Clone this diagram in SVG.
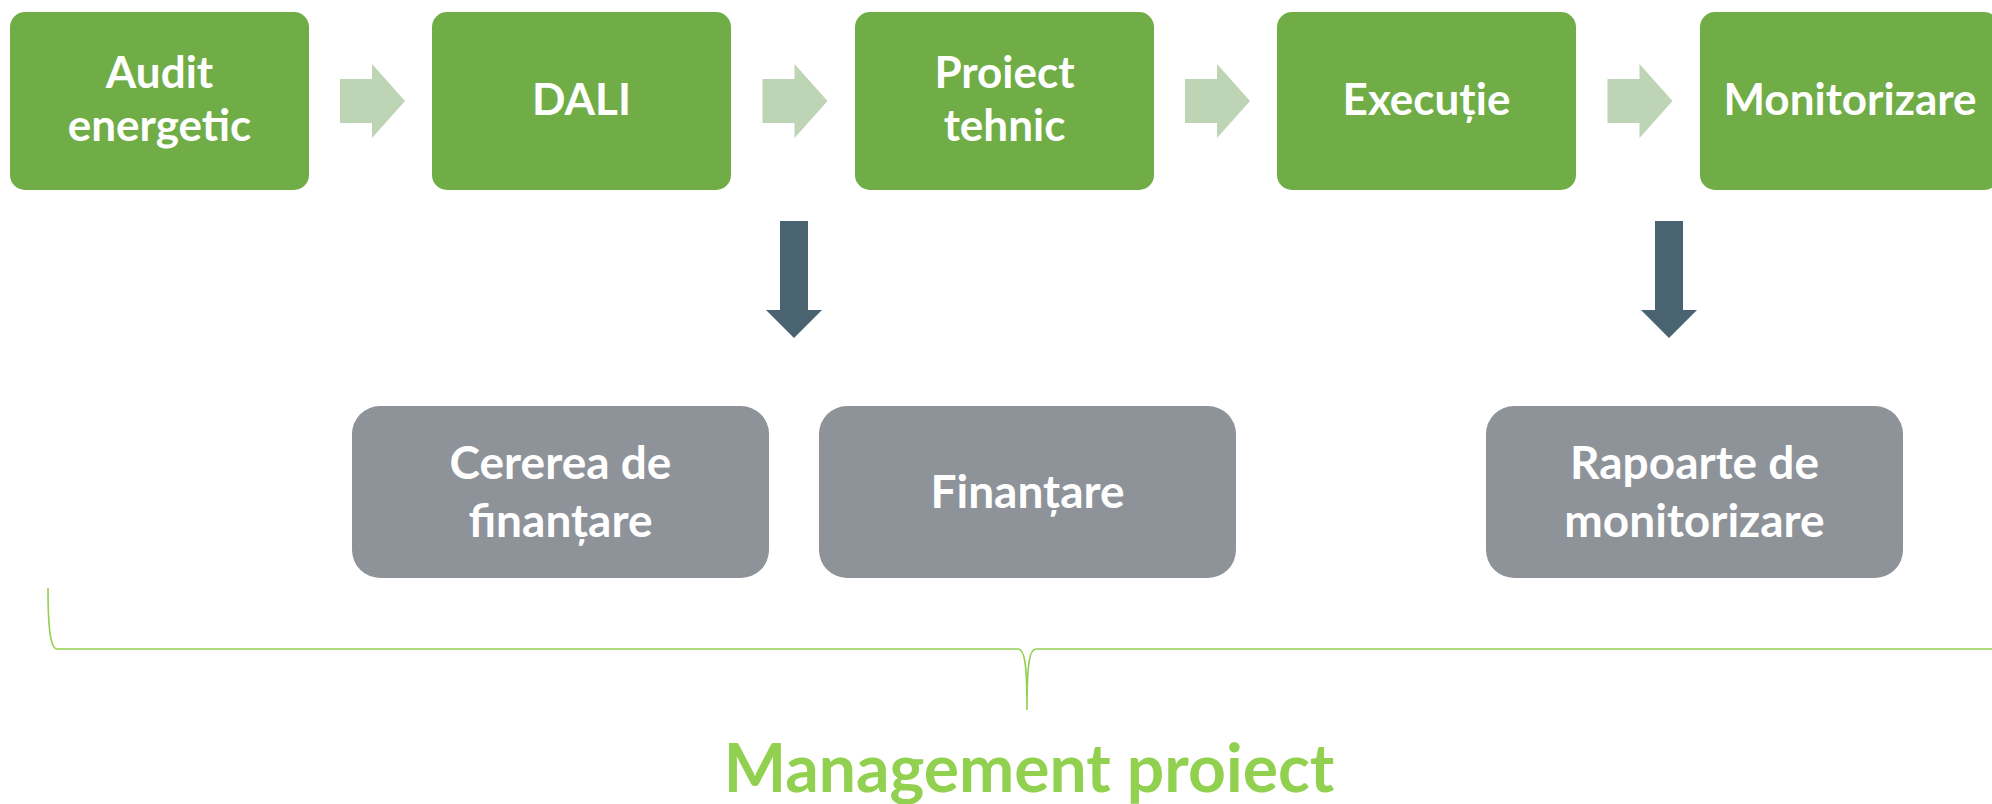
<svg xmlns="http://www.w3.org/2000/svg" width="1992" height="804" viewBox="0 0 1992 804">
  <style>
    .step { fill: #70AD47; }
    .out { fill: #8E9399; }
    .lbl { font-family: Lato, "Open Sans", "Liberation Sans", sans-serif; font-weight: 700; fill: #FFFFFF; text-anchor: middle; }
    .g { font-size: 44px; }
    .o { font-size: 46px; }
    .next { fill: #BDD4B5; }
    .down { fill: #4A6371; }
    .brace { fill: none; stroke: #92D050; stroke-width: 1.6; }
    .title { font-family: Lato, "Open Sans", "Liberation Sans", sans-serif; font-weight: 700; font-size: 66px; fill: #92D050; text-anchor: middle; }
  </style>
  <defs>
    <path id="chev" d="M0,15 H32 V0 L65,37 L32,74 V59 H0 Z"/>
    <path id="darr" d="M-14,0 H14 V89 H28 L0,117 L-28,89 H-14 Z"/>
  </defs>

  <rect width="1992" height="804" fill="#FFFFFF"/>

  <!-- process steps -->
  <g id="audit">
    <rect class="step" x="10" y="12" width="299" height="178" rx="15"/>
    <text class="lbl g" x="159.5" y="88">Audit</text>
    <text class="lbl g" x="159.5" y="141">energetic</text>
  </g>
  <g id="dali">
    <rect class="step" x="432" y="12" width="299" height="178" rx="15"/>
    <text class="lbl g" x="581.5" y="115">DALI</text>
  </g>
  <g id="proiect-tehnic">
    <rect class="step" x="855" y="12" width="299" height="178" rx="15"/>
    <text class="lbl g" x="1004.5" y="88">Proiect</text>
    <text class="lbl g" x="1004.5" y="141">tehnic</text>
  </g>
  <g id="executie">
    <rect class="step" x="1277" y="12" width="299" height="178" rx="15"/>
    <text class="lbl g" x="1426.5" y="115">Execuție</text>
  </g>
  <g id="monitorizare">
    <rect class="step" x="1700" y="12" width="299" height="178" rx="15"/>
    <text class="lbl g" x="1850" y="115">Monitorizare</text>
  </g>

  <!-- deliverables -->
  <g id="cererea">
    <rect class="out" x="352" y="406" width="417" height="172" rx="28"/>
    <text class="lbl o" x="560.5" y="479">Cererea de</text>
    <text class="lbl o" x="560.5" y="537">finanțare</text>
  </g>
  <g id="finantare">
    <rect class="out" x="819" y="406" width="417" height="172" rx="28"/>
    <text class="lbl o" x="1027.5" y="508">Finanțare</text>
  </g>
  <g id="rapoarte">
    <rect class="out" x="1486" y="406" width="417" height="172" rx="28"/>
    <text class="lbl o" x="1694.5" y="479">Rapoarte de</text>
    <text class="lbl o" x="1694.5" y="537">monitorizare</text>
  </g>

  <!-- connectors -->
  <g id="connectors">
    <use href="#chev" class="next" x="340" y="64"/>
    <use href="#chev" class="next" x="762.5" y="64"/>
    <use href="#chev" class="next" x="1185" y="64"/>
    <use href="#chev" class="next" x="1607.5" y="64"/>
    <use href="#darr" class="down" x="794" y="221"/>
    <use href="#darr" class="down" x="1669" y="221"/>
  </g>

  <!-- project management span -->
  <g id="management">
    <path class="brace" d="M48,588 C48,632 51,649 57,649 L1018,649 C1024,649 1027,660 1027,710 C1027,660 1030,649 1036,649 L1997,649 C2003,649 2006,632 2006,588"/>
    <text class="title" x="1029" y="792">Management proiect</text>
  </g>
</svg>
